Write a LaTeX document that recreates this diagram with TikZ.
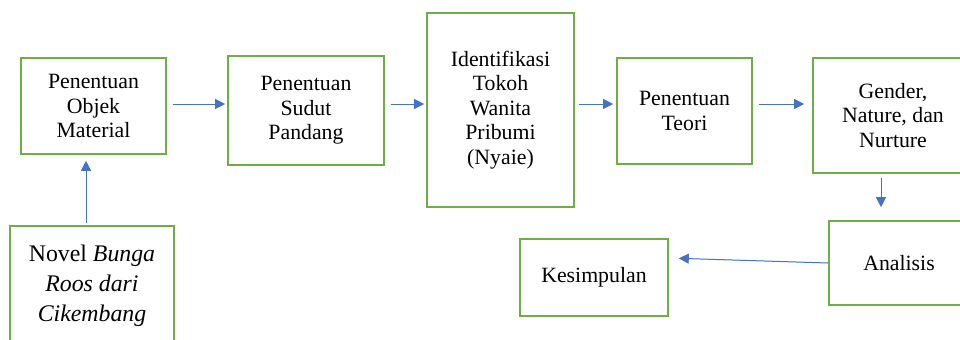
\documentclass[tikz,border=0pt]{standalone}
\usepackage{fontspec}
\setmainfont{Liberation Serif}
\usetikzlibrary{arrows.meta,positioning}
\definecolor{kotakhijau}{RGB}{112,173,71}
\definecolor{panahbiru}{RGB}{68,114,196}

\begin{document}
\begin{tikzpicture}[x=0.5pt, y=-0.5pt, >={Triangle[length=5pt,width=5pt]}]
\tikzstyle{kotak}=[draw=kotakhijau, line width=0.8pt, fill=white, align=center, inner sep=0pt, font=\fontsize{10.9}{12.3}\selectfont]
\tikzstyle{panah}=[->, draw=panahbiru, line width=0.5pt, fill=panahbiru]
\useasboundingbox (0,0) rectangle (960,339);
\node[kotak, minimum width=72.5pt, minimum height=48pt]    (OM) at (93.5,106)  {Penentuan\\Objek\\Material};
\node[kotak, minimum width=78pt, minimum height=54.5pt]    (SP) at (306,110.5) {Penentuan\\Sudut\\Pandang};
\node[kotak, minimum width=73.5pt, minimum height=97pt]    (IT) at (500.5,110) {Identifikasi\\Tokoh\\Wanita\\Pribumi\\(Nyaie)};
\node[kotak, minimum width=67.5pt, minimum height=53pt]    (PT) at (684.5,111) {Penentuan\\Teori};
\node[kotak, minimum width=80pt, minimum height=57.5pt]    (GN) at (893,115.5) {Gender,\\Nature, dan\\Nurture};
\node[kotak, minimum width=70pt, minimum height=42pt]      (AN) at (899,263)   {Analisis};
\node[kotak, minimum width=74pt, minimum height=38.5pt]    (KS) at (594,277.5) {Kesimpulan};
\node[kotak, minimum width=82pt, minimum height=60pt, font=\fontsize{11.9}{15}\selectfont] (NV) at (92,286) {Novel \textit{Bunga}\\\textit{Roos dari}\\\textit{Cikembang}};
\coordinate (baris) at (0,104);
\coordinate (kolom) at (881,0);
\path
(NV.north -| 86,0) edge[panah, shorten <=1pt, shorten >=3pt] (OM.south -| 86,0)
(OM.east |- baris) edge[panah, shorten <=3pt, shorten >=1pt] (SP.west |- baris)
(SP.east |- baris) edge[panah, shorten <=3pt, shorten >=1pt] (IT.west |- baris)
(IT.east |- baris) edge[panah, shorten <=2pt, shorten >=1.5pt] (PT.west |- baris)
(PT.east |- baris) edge[panah, shorten <=3pt, shorten >=4pt] (GN.west |- baris)
(GN.south -| kolom) edge[panah, shorten <=2pt, shorten >=6.5pt] (AN.north -| kolom)
(AN.west) edge[panah, shorten >=5pt] (KS.east |- 0,258);
\end{tikzpicture}
\end{document}
